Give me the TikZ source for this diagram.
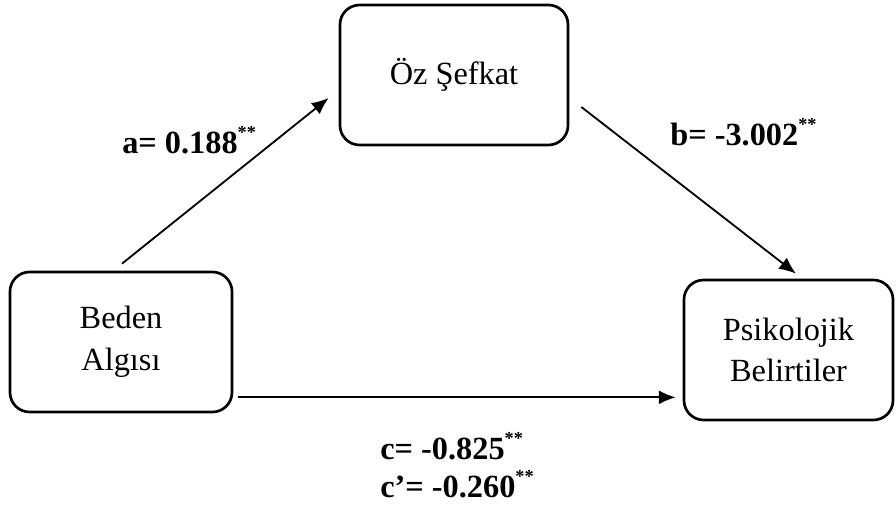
\documentclass[tikz,border=0pt]{standalone}
\usepackage{fontspec}
\setmainfont{Liberation Serif}
\usetikzlibrary{calc,positioning,arrows.meta}

% Significance stars
\newcommand{\sigstars}{\raisebox{0.95ex}{\fontsize{13}{13}\selectfont **}}

\begin{document}
\begin{tikzpicture}[x=0.025cm, y=-0.025cm, font=\fontsize{23}{29.5}\selectfont,
  box/.style={draw, line width=1.9pt, rounded corners=14pt, minimum height=3.5cm, align=center},
  arr/.style={line width=1.3pt, -{Latex[length=12pt, width=10pt]}},
  coef/.style={anchor=base west, inner sep=0pt, font=\fontsize{23}{29.5}\selectfont\bfseries}]
% Fixed frame of the picture
\useasboundingbox (0,0) rectangle (896,512);

% Variables
\node[box, minimum width=5.7cm]   (oz)    at (454,75)    {Öz Şefkat};     % Mediator
\node[box, minimum width=5.55cm]  (beden) at (121,342)   {Beden\\Algısı}; % Predictor
\node[box, minimum width=5.225cm] (psik)  at (788.5,350) {Psikolojik\\Belirtiler}; % Outcome

% Arrow ends
\coordinate (aS) at ($(beden.north)+(1,-7)$);
\coordinate (aE) at ($(oz.west)+(-10,23)$);
\coordinate (bS) at ($(oz.east)+(12,32)$);
\coordinate (bE) at ($(psik.north)+(7.5,-5)$);
\coordinate (cS) at ($(beden.south east)+(5,-16)$);
\coordinate (cE) at ($(psik.south west)+(-7,-24)$);

% Paths
\foreach \v/\w in {aS/aE, bS/bE, cS/cE} {
  \draw[arr] (\v) -- (\w);
}

% Coefficients
\node[coef] (a)  at (122,153) {a= 0.188\sigstars};
\node[coef] (b)  at (670,145) {b= -3.002\sigstars};
\node[coef] (c)  at (380,459) {c= -0.825\sigstars};
\node[coef] (cp) at (380,497) {c’= -0.260\sigstars};
\end{tikzpicture}
\end{document}
